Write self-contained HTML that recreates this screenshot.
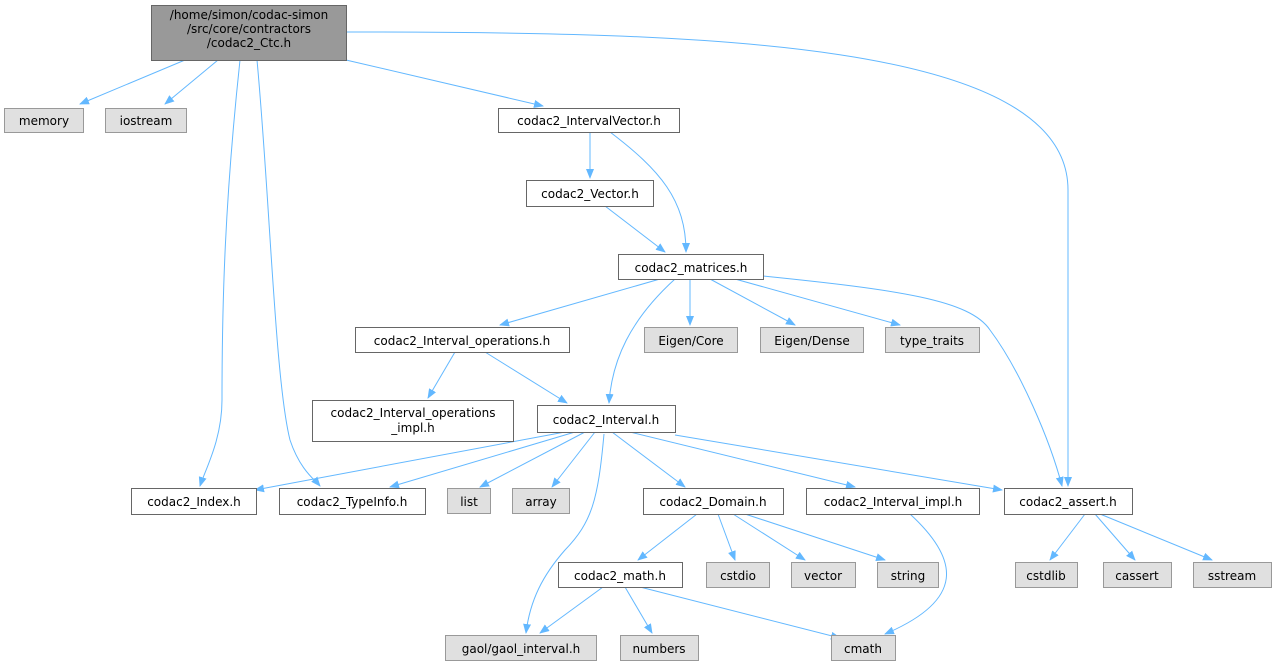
<!DOCTYPE html>
<html><head><meta charset="utf-8"><style>
html,body{margin:0;padding:0;background:#fff;}
svg text{font-family:"DejaVu Sans","Liberation Sans",sans-serif;font-size:12px;fill:#000;}
</style></head><body>
<svg width="1276" height="667" viewBox="0 0 1276 667" xmlns="http://www.w3.org/2000/svg">
<defs><marker id="a" markerWidth="10" markerHeight="8" refX="9" refY="4" orient="auto" markerUnits="userSpaceOnUse"><path d="M0,0 L10,4 L0,8 z" fill="#63b8ff"/></marker></defs>
<g fill="none" stroke="#63b8ff" stroke-width="1" marker-end="url(#a)">
<path d="M185,60 L80,104"/>
<path d="M218,60 L165,104"/>
<path d="M346,60 L543,106"/>
<path d="M346,32 C700,32 1068,40 1068,190 L1068,486"/>
<path d="M240,60 C225,200 222,300 222,400 C222,440 205,470 200,486"/>
<path d="M257,60 C270,200 275,380 290,440 C300,470 315,480 320,486"/>
<path d="M590,132 L590,178"/>
<path d="M610,132 C660,170 686,200 686,252"/>
<path d="M605,206 L665,252"/>
<path d="M660,279 L500,325"/>
<path d="M690,279 L690,325"/>
<path d="M710,279 L795,325"/>
<path d="M735,279 L900,325"/>
<path d="M675,279 C630,320 612,360 609,403"/>
<path d="M763,276 C900,290 970,300 990,330 C1020,370 1050,440 1062,486"/>
<path d="M455,352 L428,398"/>
<path d="M485,352 L567,403"/>
<path d="M565,432 L255,490"/>
<path d="M575,432 L390,487"/>
<path d="M585,432 L480,487"/>
<path d="M595,432 L552,487"/>
<path d="M604,434 C598,500 592,522 565,550 C543,575 530,600 526,633"/>
<path d="M612,432 L685,487"/>
<path d="M630,432 L855,487"/>
<path d="M675,435 L1002,490"/>
<path d="M697,514 L638,560"/>
<path d="M718,514 L735,560"/>
<path d="M733,514 L805,560"/>
<path d="M745,514 L885,560"/>
<path d="M910,514 C960,560 965,600 885,634"/>
<path d="M1085,514 L1050,560"/>
<path d="M1095,514 L1135,560"/>
<path d="M1100,514 L1212,560"/>
<path d="M603,587 L540,633"/>
<path d="M625,587 L652,633"/>
<path d="M640,587 L840,638"/>
</g>
<g stroke-width="1">
<rect x="151.5" y="5.5" width="195" height="55" fill="#999" stroke="#666"/>
<g fill="#e0e0e0" stroke="#999">
<rect x="4.5" y="108.5" width="79" height="24"/>
<rect x="105.5" y="108.5" width="81" height="24"/>
<rect x="644.5" y="327.5" width="93" height="25"/>
<rect x="760.5" y="327.5" width="103" height="25"/>
<rect x="885.5" y="327.5" width="94" height="25"/>
<rect x="447.5" y="488.5" width="43" height="25"/>
<rect x="512.5" y="488.5" width="57" height="25"/>
<rect x="706.5" y="562.5" width="63" height="25"/>
<rect x="791.5" y="562.5" width="64" height="25"/>
<rect x="877.5" y="562.5" width="61" height="25"/>
<rect x="1015.5" y="562.5" width="62" height="25"/>
<rect x="1103.5" y="562.5" width="68" height="25"/>
<rect x="1193.5" y="562.5" width="78" height="25"/>
<rect x="445.5" y="635.5" width="151" height="25"/>
<rect x="620.5" y="635.5" width="78" height="25"/>
<rect x="831.5" y="635.5" width="64" height="25"/>
</g>
<g fill="#fff" stroke="#666">
<rect x="498.5" y="108.5" width="181" height="24"/>
<rect x="526.5" y="180.5" width="127" height="26"/>
<rect x="618.5" y="254.5" width="145" height="25"/>
<rect x="355.5" y="327.5" width="214" height="25"/>
<rect x="312.5" y="400.5" width="201" height="41"/>
<rect x="537.5" y="405.5" width="138" height="27"/>
<rect x="131.5" y="488.5" width="125" height="26"/>
<rect x="279.5" y="488.5" width="146" height="26"/>
<rect x="643.5" y="488.5" width="140" height="26"/>
<rect x="806.5" y="488.5" width="173" height="26"/>
<rect x="1004.5" y="488.5" width="128" height="26"/>
<rect x="558.5" y="562.5" width="124" height="25"/>
</g>
</g>
<g text-anchor="middle">
<text x="249" y="19">/home/simon/codac-simon</text>
<text x="249" y="33">/src/core/contractors</text>
<text x="249" y="47">/codac2_Ctc.h</text>
<text x="44" y="125">memory</text>
<text x="146" y="125">iostream</text>
<text x="589" y="125">codac2_IntervalVector.h</text>
<text x="590" y="198">codac2_Vector.h</text>
<text x="691" y="272">codac2_matrices.h</text>
<text x="462" y="345">codac2_Interval_operations.h</text>
<text x="691" y="345">Eigen/Core</text>
<text x="812" y="345">Eigen/Dense</text>
<text x="932" y="345">type_traits</text>
<text x="413" y="417">codac2_Interval_operations</text>
<text x="413" y="432">_impl.h</text>
<text x="606" y="424">codac2_Interval.h</text>
<text x="194" y="506">codac2_Index.h</text>
<text x="352" y="506">codac2_TypeInfo.h</text>
<text x="469" y="506">list</text>
<text x="541" y="506">array</text>
<text x="713" y="506">codac2_Domain.h</text>
<text x="893" y="506">codac2_Interval_impl.h</text>
<text x="1068" y="506">codac2_assert.h</text>
<text x="620" y="580">codac2_math.h</text>
<text x="738" y="580">cstdio</text>
<text x="823" y="580">vector</text>
<text x="908" y="580">string</text>
<text x="1046" y="580">cstdlib</text>
<text x="1137" y="580">cassert</text>
<text x="1232" y="580">sstream</text>
<text x="521" y="653">gaol/gaol_interval.h</text>
<text x="659" y="653">numbers</text>
<text x="863" y="653">cmath</text>
</g>
</svg>
</body></html>
